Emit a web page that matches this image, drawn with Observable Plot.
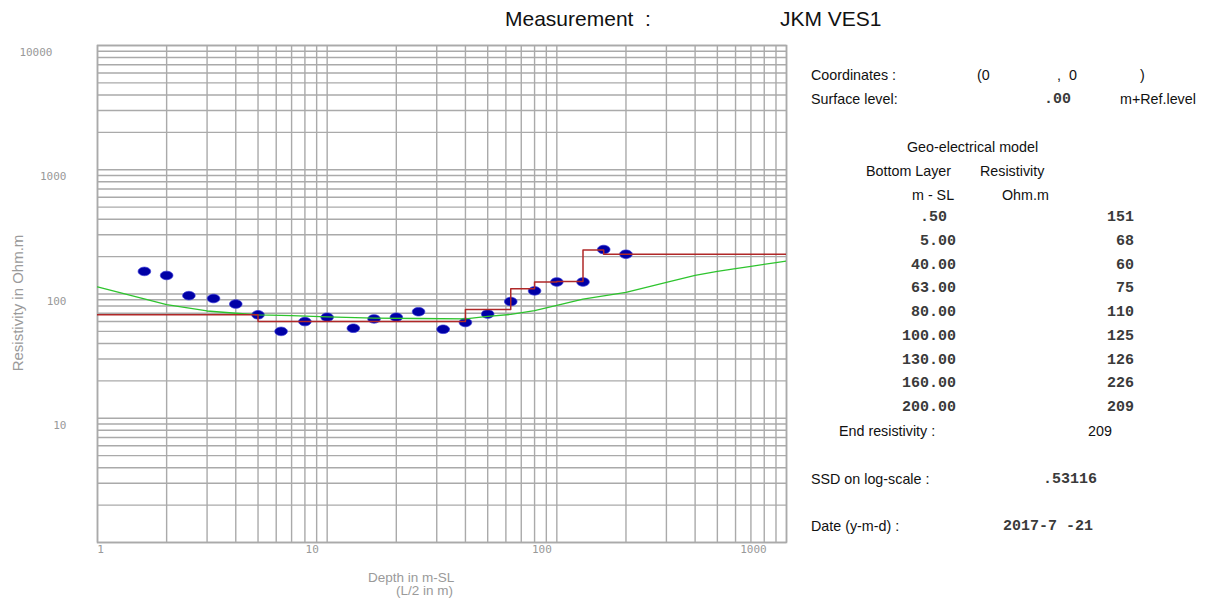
<!DOCTYPE html>
<html>
<head>
<meta charset="utf-8">
<script src="https://cdn.jsdelivr.net/npm/d3@7"></script>
<script src="https://cdn.jsdelivr.net/npm/@observablehq/plot@0.6"></script>
<style>
  body { margin: 0; background: #fff; }
  #wrap { position: relative; width: 1210px; height: 599px; overflow: hidden; }
  #chart { position: absolute; left: 0; top: 0; }
  .t { position: absolute; white-space: pre; line-height: 1; }
  .sans { font-family: "Liberation Sans", Arial, sans-serif; font-size: 14.3px; color: #111; }
  .mono { font-family: "Liberation Mono", "Courier New", monospace; font-size: 15px; font-weight: bold; color: #3a3a3a; }
  .title { font-family: "Liberation Sans", Arial, sans-serif; font-size: 21px; color: #111; }
  .axt { font-family: "Liberation Sans", Arial, sans-serif; font-size: 13.5px; color: #9a9a9a; }
</style>
</head>
<body>
<div id="wrap"><div id="chart"></div></div>
<script>
// ---- Data ----
// Measured apparent resistivity (AB/2 spacing in m, resistivity in Ohm.m)
const spacing = [1.6, 2, 2.5, 3.2, 4, 5, 6.3, 8, 10, 13, 16, 20, 25, 32, 40, 50, 63, 80, 100, 130, 160, 200];
const apparentRes = [152, 141, 97, 92, 83, 68, 50, 60, 65, 53, 63, 65, 72, 52, 59, 69, 87, 106, 125, 125, 228, 209];

// Calculated (model response) curve
const calcDepth = [1, 2, 3, 4, 5, 7, 10, 16, 25, 40, 50, 63, 80, 100, 130, 200, 300, 400, 500, 600, 700, 900, 1000];
const calcRes = [114, 82, 73, 70, 68, 67, 65.5, 64, 63.5, 63, 66, 68.5, 73.5, 81, 91, 103, 124, 141, 152, 160, 167, 179, 184];

// Geo-electrical model
const layerBottom = [0.5, 5, 40, 63, 80, 100, 130, 160, 200];
const layerRes = [151, 68, 60, 75, 110, 125, 126, 226, 209];
const endRes = 209;

// Axis ticks
const xTickLabels = [1, 10, 100, 1000];
const yTickLabels = [10, 100, 1000, 10000];
const xDomain = [1, 1000];
const yDomain = [1, 10000];

// Info texts
const measurementName = "JKM VES1";
const coordinates = ["0", "0"];
const surfaceLevel = ".00";
const ssd = ".53116";
const dateText = "2017-7 -21";

// ---- Build tables ----
const obs = spacing.map((s, i) => ({s, r: apparentRes[i]}));
const calc = calcDepth.map((d, i) => ({d, r: calcRes[i]}));
const model = layerRes.map((r, i) => ({d: i === 0 ? xDomain[0] / 10 : layerBottom[i - 1], r}));
model.push({d: layerBottom[layerBottom.length - 1], r: endRes});
model.push({d: xDomain[1] * 10, r: endRes});

const decades = (lo, hi) => {
  const out = [];
  for (let e = Math.log10(lo); e < Math.log10(hi); e++) for (let m = 1; m < 10; m++) out.push(m * 10 ** e);
  out.push(hi);
  return out;
};
const xGrid = decades(xDomain[0], xDomain[1]);
const yGrid = decades(yDomain[0], yDomain[1]);

const ellipse = {
  draw(ctx) {
    const rx = 6.3, ry = 4.3, n = 28;
    for (let i = 0; i <= n; i++) {
      const a = (i / n) * 2 * Math.PI;
      const px = rx * Math.cos(a), py = ry * Math.sin(a);
      if (i === 0) ctx.moveTo(px, py); else ctx.lineTo(px, py);
    }
    ctx.closePath();
  }
};

const fmt = d => String(d);
const gridStyle = {stroke: "#aaaaaa", strokeOpacity: 1, strokeWidth: 1.4};
const tickStyle = {tickSize: 0, tickFormat: fmt, label: null, fill: "#999999"};

const chart = Plot.plot({
  width: 1210,
  height: 599,
  marginLeft: 97,
  marginRight: 424,
  marginTop: 45,
  marginBottom: 57,
  style: {fontFamily: "DejaVu Sans Mono", fontSize: "11px", color: "#999999", background: "transparent"},
  x: {type: "log", domain: xDomain},
  y: {type: "log", domain: yDomain},
  marks: [
    Plot.gridX(xGrid, gridStyle),
    Plot.gridY(yGrid, gridStyle),
    Plot.frame({stroke: "#aaaaaa", strokeWidth: 1.6}),
    Plot.axisX(xTickLabels.slice(0, 1), {...tickStyle, tickPadding: 3, dx: 3}),
    Plot.axisX(xTickLabels.slice(1, 3), {...tickStyle, tickPadding: 3, dx: -15}),
    Plot.axisX(xTickLabels.slice(3), {...tickStyle, tickPadding: 3, dx: -33}),
    Plot.axisY(yTickLabels.slice(3), {...tickStyle, tickPadding: 45, dy: 7}),
    Plot.axisY(yTickLabels.slice(0, 3), {...tickStyle, tickPadding: 31, dy: 7}),
    Plot.dot(obs, {x: "s", y: "r", symbol: ellipse, fill: "#0000a6", stroke: "#3a3ad8", strokeWidth: 0.7}),
    Plot.line(calc, {x: "d", y: "r", stroke: "#2ec42e", strokeWidth: 1.3, clip: true}),
    Plot.line(model, {x: "d", y: "r", curve: "step-after", stroke: "#b02828", strokeWidth: 1.5, clip: true})
  ]
});
document.getElementById("chart").appendChild(chart);

// ---- Text overlay ----
const wrap = document.getElementById("wrap");
function put(text, x, y, cls, anchor = "start", extra = "") {
  const el = document.createElement("div");
  el.className = "t " + cls;
  el.textContent = text;
  const tx = anchor === "end" ? "-100%" : anchor === "middle" ? "-50%" : "0";
  el.style.left = x + "px";
  el.style.top = y + "px";
  el.style.transform = `translate(${tx}, -50%)` + extra;
  wrap.appendChild(el);
  return el;
}

put("Measurement  :", 505, 18, "title");
put(measurementName, 780, 18, "title");

put("Resistivity in Ohm.m", 17, 303, "axt", "middle", " rotate(-90deg)").style.fontSize = "15px";
put("Depth in m-SL", 368, 578, "axt");
put("(L/2 in m)", 396, 591, "axt");

put("Coordinates :", 811, 75, "sans");
put("(" + coordinates[0], 977, 75, "sans");
put(",  " + coordinates[1], 1057, 75, "sans");
put(")", 1140, 75, "sans");
put("Surface level:", 811, 99, "sans");
put(surfaceLevel, 1044, 99, "mono");
put("m+Ref.level", 1120, 99, "sans");
put("Geo-electrical model", 907, 147, "sans");
put("Bottom Layer", 866, 171, "sans");
put("Resistivity", 980, 171, "sans");
put("m - SL", 912, 195, "sans");
put("Ohm.m", 1002, 195, "sans");

layerBottom.forEach((d, i) => {
  const y = 217 + i * 23.75;
  const s = d < 1 ? d.toFixed(2).replace(/^0/, "") + " " : d.toFixed(2);
  put(s, 956, y, "mono", "end");
  put(String(layerRes[i]), 1134, y, "mono", "end");
});
put("End resistivity :", 839, 431, "sans");
put(String(endRes), 1088, 431, "sans");
put("SSD on log-scale :", 811, 479, "sans");
put(ssd, 1043, 479, "mono");
put("Date (y-m-d) :", 811, 526, "sans");
put(dateText, 1003, 526, "mono");
</script>
</body>
</html>
